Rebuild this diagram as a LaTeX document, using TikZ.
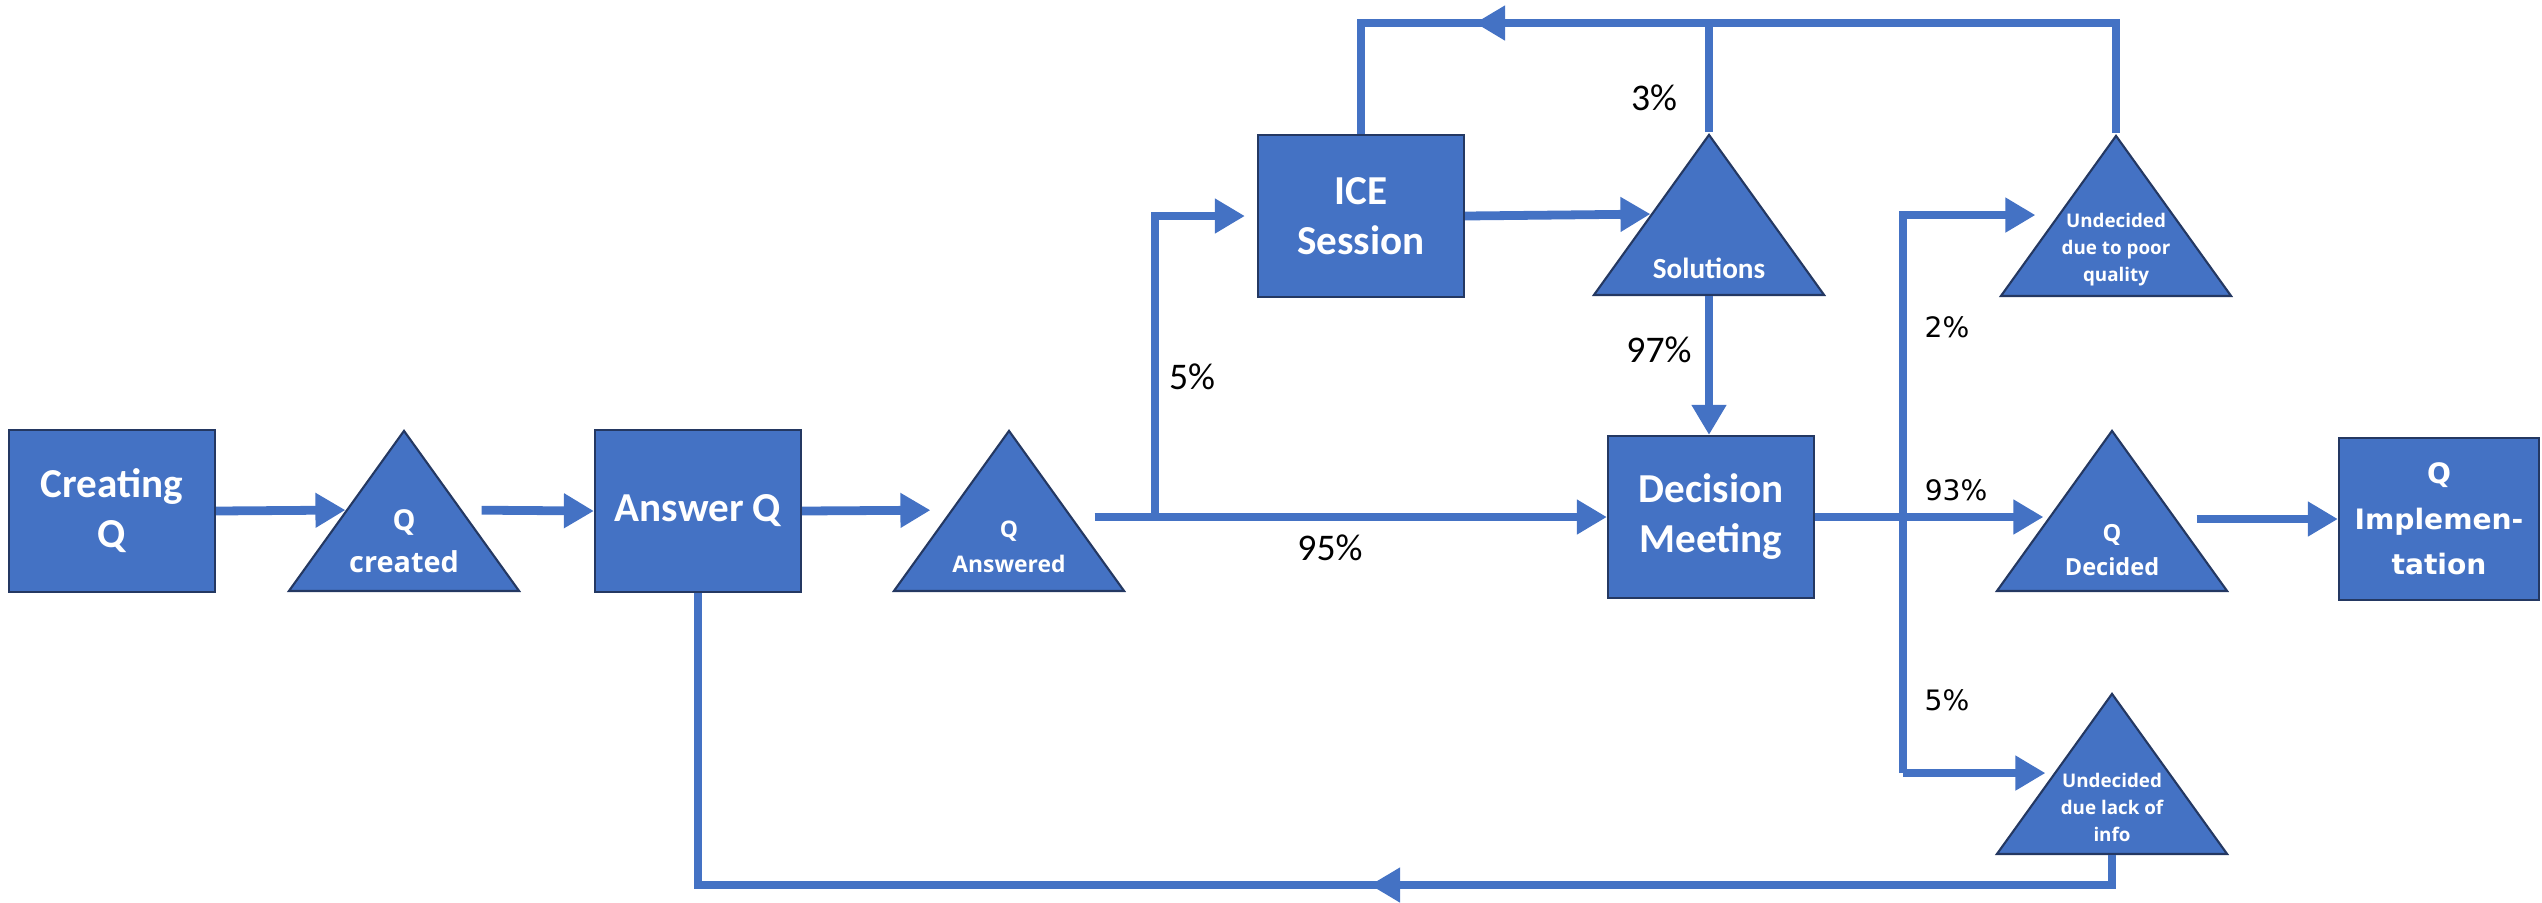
\documentclass[tikz,border=0pt]{standalone}
\usepackage{fontspec}
\setmainfont{Carlito}
\newfontfamily\verdfont{DejaVu Sans}
\newfontfamily\trifont{Open Sans}
\usetikzlibrary{arrows.meta,positioning,shapes.geometric,calc}
\definecolor{qBlue} {RGB}{ 68,114,196}
\definecolor{qBlueD}{RGB}{ 36, 56, 98}

\begin{document}
\begin{tikzpicture}[x=0.01cm,y=-0.01cm,
  flow/.style   ={draw=qBlue,line width=2.5pt},
  flowarr/.style={flow,-{Triangle[length=3mm,width=3.3mm]}},
  box/.style    ={draw=qBlueD,fill=qBlue,line width=0.6pt,inner sep=0pt,
                  minimum width=2.06cm,minimum height=1.62cm,align=center,
                  text=white,font=\fontsize{11.7}{14.2}\selectfont\bfseries},
  tri/.style    ={isosceles triangle,isosceles triangle stretches,
                  shape border rotate=90,draw=qBlueD,fill=qBlue,line width=0.6pt,
                  inner sep=0pt,minimum width=2.30cm,minimum height=1.60cm,
                  anchor=lower side},
  tritext/.style 2 args={text=white,align=center,inner sep=0pt,
                  font=\trifont\bfseries\fontsize{#1}{#2}\selectfont},
  pct/.style    ={font=\fontsize{10.7}{12}\selectfont},
  pctv/.style   ={font=\verdfont\fontsize{8}{10}\selectfont}
]
\useasboundingbox (0,0) rectangle (2542,902);

% process steps
\node[box] (create)   at (112,511)  {Creating\\Q};
\node[box] (answer)   at (698,511)  {Answer Q};
\node[box] (ice)      at (1361,216) {ICE\\Session};
\node[box] (decision) at (1711,517) {Decision\\Meeting};
\node[box,minimum width=2.0cm,font=\verdfont\bfseries\fontsize{8}{13}\selectfont]
     (impl) at (2439,519) {Q\\Implemen-\\tation};

% states
\node[tri] (qcreated)  at (404,592)  {};
\node[tri] (qanswered) at (1009,592) {};
\node[tri] (solutions) at (1709,296) {};
\node[tri] (poor)      at (2116,297) {};
\node[tri] (decided)   at (2112,592) {};
\node[tri] (lack)      at (2112,855) {};

\node[tritext={8.2}{12}]  (qcreatedtxt)  at (404,541)  {Q\\created};
\node[tritext={6.5}{10}]  (qansweredtxt) at (1009,547) {Q\\Answered};
\node[text=white,inner sep=0pt,font=\fontsize{8.3}{10}\selectfont\bfseries]
     (solutionstxt) at (1709,268) {Solutions};
\node[tritext={5.35}{7.7}] (poortxt)     at (2116,250) {Undecided\\due to poor\\quality};
\node[tritext={6.7}{9.6}] (decidedtxt)   at (2112,550) {Q\\Decided};
\node[tritext={5.35}{7.7}] (lacktxt)     at (2112,807) {Undecided\\due lack of\\info};

% helper points
\coordinate (topline) at (0,23);
\coordinate (botline) at (0,885);
\coordinate (toparr)  at (1475,23);
\coordinate (botarr)  at (1370,885);
\coordinate (splitA)  at (1155,517);
\coordinate (splitB)  at (1903,0);

% main flow
\draw[flowarr] (create.east) -- (qcreated.left side);
\draw[flowarr,shorten <=1.9mm] (qcreated.right side) -- (answer.west);
\draw[flowarr,shorten >=2mm] (answer.east) -- (qanswered.left side);
\draw[flowarr,shorten <=2.7mm] (qanswered.right side |- decision.west) -- (decision.west);
\draw[flowarr,shorten >=1.2mm] (splitA) |- (ice.west);
\draw[flowarr] (ice.east) -- (solutions.left side);
\draw[flowarr] (solutions.lower side) -- (solutions.lower side |- decision.north);
\draw[flowarr,shorten >=1mm] (decision.east) -- (decision.east -| decided.left side);
\draw[flowarr,shorten >=2.2mm] (lack.left side -| splitB) -- (poor.left side -| splitB) -- (poor.left side);
\draw[flowarr,shorten >=0.8mm] (lack.left side -| splitB) -- (lack.left side);
\draw[flowarr,shorten <=2.6mm] (decided.right side |- impl.west) -- (impl.west);

% loops back
\draw[flow] (solutions.apex) -- (solutions.apex |- topline);
\draw[flow] (poor.apex) -- (poor.apex |- topline) -- (ice.north |- topline) -- (ice.north);
\draw[flowarr] (poor.apex |- topline) -- (toparr);
\draw[flow] (lack.lower side) -- (lack.lower side |- botline) -- (answer.south |- botline) -- (answer.south);
\draw[flowarr] (lack.lower side |- botline) -- (botarr);

% shares
\node[pct]  (p5)  at (1192,377) {5\%};
\node[pct]  (p95) at (1330,548) {95\%};
\node[pct]  (p97) at (1659,350) {97\%};
\node[pct]  (p3)  at (1654,98)  {3\%};
\node[pctv] (p2)  at (1947,327) {2\%};
\node[pctv] (p93) at (1956,490) {93\%};
\node[pctv] (p5b) at (1947,700) {5\%};
\end{tikzpicture}
\end{document}
